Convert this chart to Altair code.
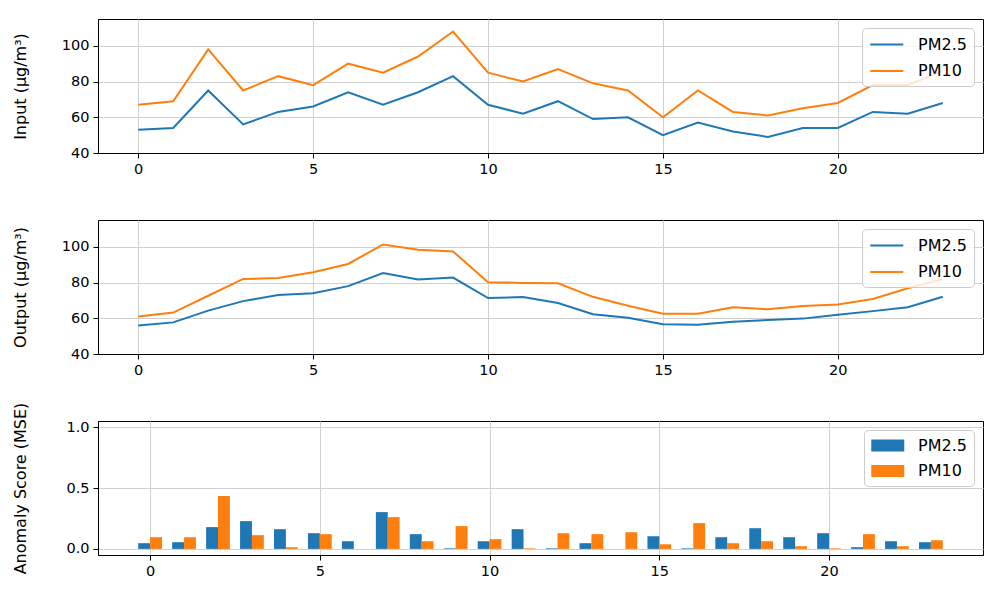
import altair as alt
import pandas as pd

# ---------------- data ----------------
hours = list(range(24))
series = ["PM2.5", "PM10"]
colors = ["#1f77b4", "#ff7f0e"]

input_pm25 = [53, 54, 75, 56, 63, 66, 74, 67, 74, 83, 67, 62, 69, 59, 60, 50, 57, 52, 49, 54, 54, 63, 62, 68]
input_pm10 = [67, 69, 98, 75, 83, 78, 90, 85, 94, 108, 85, 80, 87, 79, 75, 60, 75, 63, 61, 65, 68, 78, 78, 86]

output_pm25 = [56, 57.7, 64.3, 69.6, 73, 74, 78, 85.3, 81.7, 82.8, 71.3, 71.9, 68.5, 62.3, 60.3, 56.6,
               56.4, 58, 59, 59.8, 62, 64, 66.2, 72]
output_pm10 = [61, 63.2, 72.6, 82, 82.5, 85.8, 90.4, 101.3, 98.3, 97.4, 80.2, 79.8, 79.6, 72, 67, 62.5,
               62.5, 66.2, 65, 66.8, 67.7, 70.8, 76.8, 82]

mse_pm25 = [0.047, 0.055, 0.179, 0.228, 0.162, 0.129, 0.063, 0.302, 0.121, 0.005, 0.063, 0.162,
            0.005, 0.047, 0.0, 0.104, 0.005, 0.096, 0.170, 0.096, 0.129, 0.014, 0.063, 0.055]
mse_pm10 = [0.096, 0.096, 0.434, 0.113, 0.014, 0.121, 0.0, 0.261, 0.063, 0.187, 0.080, 0.005,
            0.129, 0.121, 0.137, 0.038, 0.212, 0.047, 0.063, 0.022, 0.005, 0.121, 0.022, 0.071]

x_ticks = [0, 5, 10, 15, 20]
conc_ticks = [40, 60, 80, 100]
mse_ticks = [0.0, 0.5, 1.0]


def long_table(a, b):
    rows = []
    for h, v in zip(hours, a):
        rows.append({"hour": h, "series": series[0], "value": v})
    for h, v in zip(hours, b):
        rows.append({"hour": h, "series": series[1], "value": v})
    return pd.DataFrame(rows)


W, H = 885, 134
TITLE_X = -70
BAR_W = 0.35

color_scale = alt.Scale(domain=series, range=colors)


def line_panel(df, title):
    return alt.Chart(df).mark_line(strokeWidth=2).encode(
        x=alt.X("hour:Q",
                scale=alt.Scale(domain=[-1.15, 24.15], nice=False, zero=False),
                axis=alt.Axis(values=x_ticks, title=None, format="d")),
        y=alt.Y("value:Q",
                scale=alt.Scale(domain=[40, 115], nice=False, zero=False),
                axis=alt.Axis(values=conc_ticks, title=title, titleX=TITLE_X, format="d")),
        color=alt.Color("series:N", scale=color_scale,
                        legend=alt.Legend(title=None, orient="top-right",
                                          symbolType="M-1,0H3", symbolSize=272.25,
                                          symbolStrokeWidth=2, labelOffset=30)),
    ).properties(width=W, height=H)


top = line_panel(long_table(input_pm25, input_pm10), "Input (μg/m³)")
mid = line_panel(long_table(output_pm25, output_pm10), "Output (μg/m³)")

bars = alt.Chart(long_table(mse_pm25, mse_pm10)).transform_calculate(
    x0=f"datum.series == '{series[0]}' ? datum.hour - {BAR_W} : datum.hour",
    x1=f"datum.series == '{series[0]}' ? datum.hour : datum.hour + {BAR_W}",
).mark_bar().encode(
    x=alt.X("x0:Q",
            scale=alt.Scale(domain=[-1.535, 24.535], nice=False, zero=False),
            axis=alt.Axis(values=x_ticks, title=None, format="d")),
    x2="x1:Q",
    y=alt.Y("value:Q",
            scale=alt.Scale(domain=[-0.05, 1.05], nice=False, zero=False),
            axis=alt.Axis(values=mse_ticks, title="Anomaly Score (MSE)", titleX=TITLE_X, format=".1f")),
    y2=alt.datum(0),
    color=alt.Color("series:N", scale=color_scale,
                    legend=alt.Legend(title=None, orient="top-right",
                                      symbolType="M-1,-0.727H3V0.727H-1Z", symbolSize=272.25,
                                      symbolStrokeWidth=0, labelOffset=30)),
).properties(width=W, height=H)

chart = alt.vconcat(top, mid, bars, spacing=67, bounds="flush").resolve_scale(
    color="independent"
).resolve_legend(
    color="independent"
).properties(
    padding={"left": 3, "top": 10, "right": 5, "bottom": 5}
).configure_view(
    stroke="black", strokeWidth=1
).configure_axis(
    labelFont="DejaVu Sans", labelFontSize=14.5, labelColor="black",
    titleFont="DejaVu Sans", titleFontSize=16, titleFontWeight="normal", titleColor="black",
    tickColor="black", tickSize=5, domainColor="black", domainWidth=1,
    gridColor="#d0d0d0", gridWidth=1, labelPadding=4,
).configure_legend(
    labelFont="DejaVu Sans", labelFontSize=16, labelColor="black",
    padding=7, rowPadding=8.5, cornerRadius=4, strokeColor="#cccccc",
    fillColor="rgba(255,255,255,0.8)", offset=9,
)

chart.save("out.html", embed_options={"renderer": "svg", "actions": False})
